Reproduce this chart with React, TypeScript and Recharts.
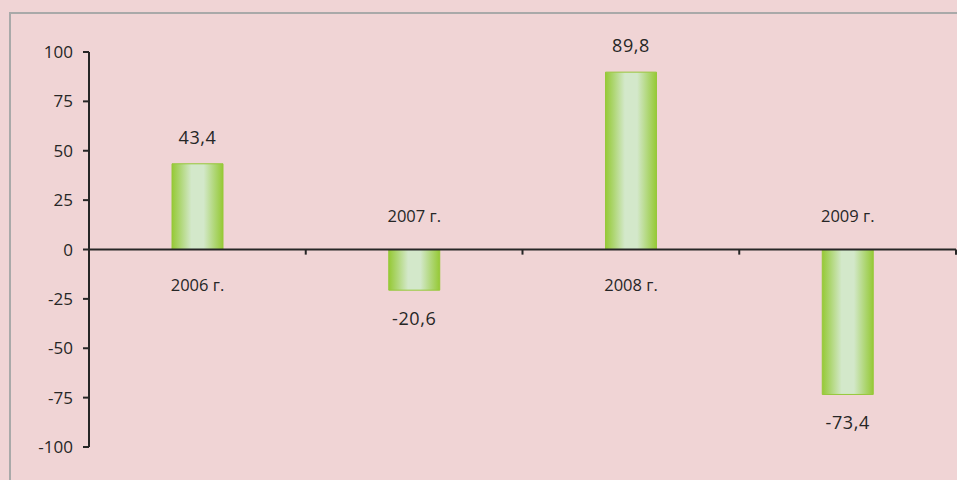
import { BarChart, Bar, XAxis, YAxis, ReferenceLine, LabelList } from "recharts";

const years = ["2006 г.", "2007 г.", "2008 г.", "2009 г."];
const changes = [43.4, -20.6, 89.8, -73.4];
const yTicks = [-100, -75, -50, -25, 0, 25, 50, 75, 100];

const data = years.map((year, i) => ({ year, value: changes[i] }));

const FONT = "'Open Sans', sans-serif";
const INK = "#262626";
const FRAME = "#A9A9A9";

const fmt = (v: number) => v.toFixed(1).replace(".", ",");

function ValueLabel(props: any) {
  const { x, y, width, height, index } = props;
  const v = changes[index];
  const top = Math.min(y, y + height);
  const bottom = Math.max(y, y + height);
  const cx = x + width / 2;
  const ty = v >= 0 ? top - 20 : bottom + 35;
  return (
    <text x={cx} y={ty} textAnchor="middle" fill={INK} fontSize={18} fontFamily={FONT} letterSpacing={0.6}>
      {fmt(v)}
    </text>
  );
}

function YearLabel(props: any) {
  const { x, y, width, height, index } = props;
  const v = changes[index];
  const top = Math.min(y, y + height);
  const bottom = Math.max(y, y + height);
  const zero = v >= 0 ? bottom : top;
  const cx = x + width / 2;
  const ty = v >= 0 ? zero + 41 : zero - 28;
  return (
    <text x={cx} y={ty} textAnchor="middle" fill={INK} fontSize={16.5} fontFamily={FONT}>
      {years[index]}
    </text>
  );
}

export default function App() {
  return (
    <div style={{ position: "absolute", left: 0, top: 0, width: 957, height: 480, background: "#F0D4D5", overflow: "hidden" }}>
      {/* frame: only the top and left edges fall inside the picture */}
      <svg width={957} height={480} style={{ position: "absolute", left: 0, top: 0 }}>
        <path d="M10 480 V13 H957" fill="none" stroke={FRAME} strokeWidth={2} />
      </svg>
      <BarChart
        width={957}
        height={480}
        data={data}
        margin={{ top: 52, right: 1, bottom: 33, left: 0 }}
        style={{ position: "absolute", left: 0, top: 0, fontFamily: FONT }}
      >
        <defs>
          <linearGradient id="barGrad" x1="0" y1="0" x2="1" y2="0">
            <stop offset="0%" stopColor="#96C936" />
            <stop offset="16%" stopColor="#AED673" />
            <stop offset="38%" stopColor="#D3E8CA" />
            <stop offset="62%" stopColor="#D3E8CA" />
            <stop offset="84%" stopColor="#AED673" />
            <stop offset="100%" stopColor="#96C936" />
          </linearGradient>
        </defs>
        <XAxis dataKey="year" hide />
        <YAxis
          domain={[-100, 100]}
          ticks={yTicks}
          width={89}
          interval={0}
          axisLine={{ stroke: INK, strokeWidth: 2 }}
          tickLine={{ stroke: INK, strokeWidth: 2 }}
          tickSize={6}
          tickMargin={10}
          tick={{ fill: INK, fontSize: 17, fontFamily: FONT }}
        />
        <Bar dataKey="value" barSize={51} fill="url(#barGrad)" stroke="#96C83A" strokeWidth={1} isAnimationActive={false}>
          <LabelList dataKey="value" content={<ValueLabel />} />
          <LabelList dataKey="year" content={<YearLabel />} />
        </Bar>
        <ReferenceLine y={0} stroke={INK} strokeWidth={2} />
        {years.map((yr) => (
          <ReferenceLine
            key={yr}
            segment={[
              { x: yr, y: 0 },
              { x: yr, y: -2.6 },
            ]}
            position="end"
            stroke={INK}
            strokeWidth={2}
          />
        ))}
      </BarChart>
    </div>
  );
}
